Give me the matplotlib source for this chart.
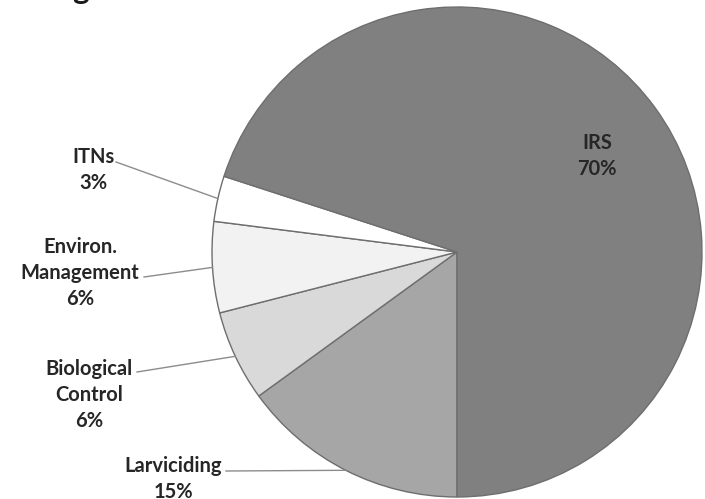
import numpy as np
import matplotlib
matplotlib.use("Agg")
import matplotlib.pyplot as plt

# Data (ordered clockwise from 6 o'clock)
categories = ["Larviciding", "Biological\nControl", "Environ.\nManagement", "ITNs", "IRS"]
values = [15, 6, 6, 3, 70]
pct_labels = ["15%", "6%", "6%", "3%", "70%"]
colors = ["#a6a6a6", "#d9d9d9", "#f2f2f2", "#ffffff", "#808080"]

W, H = 705, 499
fig = plt.figure(figsize=(W / 100, H / 100), dpi=100)
cx, cy, R = 457, 252, 245
ax = fig.add_axes([(cx - R) / W, (H - cy - R) / H, 2 * R / W, 2 * R / H])

wedges, _ = ax.pie(values, colors=colors, startangle=-90, counterclock=False, radius=1,
                   wedgeprops=dict(edgecolor="#6e6e6e", linewidth=1.0))
ax.set_xlim(-1, 1)
ax.set_ylim(-1, 1)
ax.set_aspect("equal")
ax.axis("off")

def px2d(px, py):
    return (px - cx) / R, (cy - py) / R

font = dict(family=["Lato", "DejaVu Sans"], fontweight="bold", fontsize=14.5, color="#262626")

# label centre positions (pixels) and leader start points
label_pos = [(173, 479), (89, 395), (80, 273), (93, 170), (597, 156)]
leader_start = [(226, 471), (137, 372), (144, 277), (116, 162), None]

for i, w in enumerate(wedges):
    txt = categories[i] + "\n" + pct_labels[i]
    x, y = px2d(*label_pos[i])
    ax.text(x, y, txt, ha="center", va="center", linespacing=1.4, clip_on=False, **font)
    if leader_start[i] is not None:
        mid = np.deg2rad((w.theta1 + w.theta2) / 2)
        ex, ey = np.cos(mid), np.sin(mid)
        sx, sy = px2d(*leader_start[i])
        ax.plot([sx, ex], [sy, ey], color="#8c8c8c", lw=1.0, clip_on=False)

fig.text(20 / W, 1 + 1 / H, "budget of vector control methods", ha="left", va="baseline",
         family=["Lato", "DejaVu Sans"], fontweight="bold", fontsize=22.5, color="#1a1a1a")

fig.savefig("out.png", dpi=100)
